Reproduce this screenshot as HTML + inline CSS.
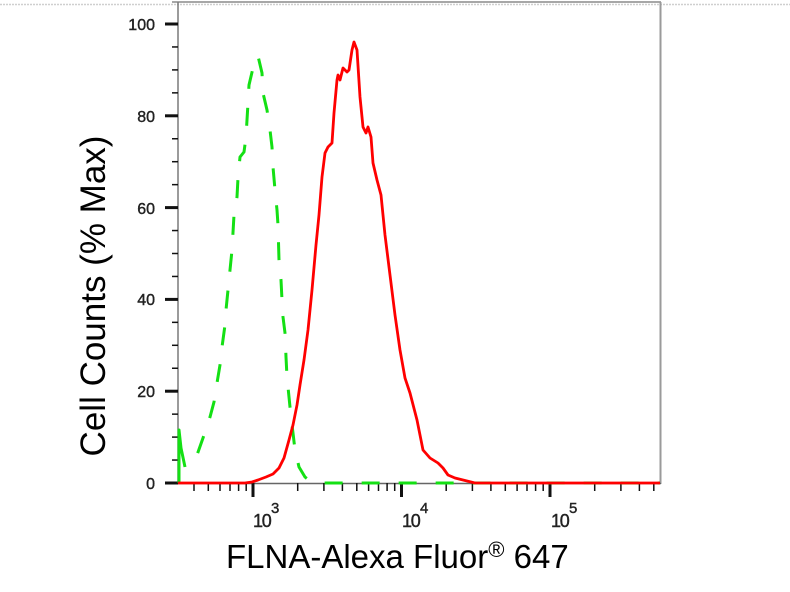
<!DOCTYPE html>
<html><head><meta charset="utf-8"><style>
html,body{margin:0;padding:0;background:#fff;}
svg{display:block;}
text{font-family:"Liberation Sans",Arial,sans-serif;}
</style></head><body>
<svg width="790" height="592" viewBox="0 0 790 592" xmlns="http://www.w3.org/2000/svg">
<rect width="790" height="592" fill="#fff"/>
<!-- top dotted line -->
<line x1="0" y1="4.5" x2="790" y2="4.5" stroke="#cfcfcf" stroke-width="1.5" stroke-dasharray="2 1"/>
<!-- frame -->
<line x1="172" y1="2" x2="661" y2="2" stroke="#8a8a8a" stroke-width="1.5"/>
<line x1="660.5" y1="2" x2="660.5" y2="484" stroke="#9a9a9a" stroke-width="2"/>
<line x1="178" y1="2" x2="178" y2="484" stroke="#7a7a7a" stroke-width="1.5"/>
<line x1="178" y1="483.5" x2="661" y2="483.5" stroke="#666" stroke-width="1.5"/>

<!-- y ticks -->
<g stroke="#111">
<line x1="165" y1="483" x2="178" y2="483" stroke-width="3"/>
<line x1="165" y1="391.2" x2="178" y2="391.2" stroke-width="3"/>
<line x1="165" y1="299.4" x2="178" y2="299.4" stroke-width="3"/>
<line x1="165" y1="207.6" x2="178" y2="207.6" stroke-width="3"/>
<line x1="165" y1="115.8" x2="178" y2="115.8" stroke-width="3"/>
<line x1="165" y1="24" x2="178" y2="24" stroke-width="3"/>
<g stroke-width="1.5">
<line x1="172" y1="460.05" x2="178" y2="460.05"/><line x1="172" y1="437.1" x2="178" y2="437.1"/><line x1="172" y1="414.15" x2="178" y2="414.15"/>
<line x1="172" y1="368.25" x2="178" y2="368.25"/><line x1="172" y1="345.3" x2="178" y2="345.3"/><line x1="172" y1="322.35" x2="178" y2="322.35"/>
<line x1="172" y1="276.45" x2="178" y2="276.45"/><line x1="172" y1="253.5" x2="178" y2="253.5"/><line x1="172" y1="230.55" x2="178" y2="230.55"/>
<line x1="172" y1="184.65" x2="178" y2="184.65"/><line x1="172" y1="161.7" x2="178" y2="161.7"/><line x1="172" y1="138.75" x2="178" y2="138.75"/>
<line x1="172" y1="92.85" x2="178" y2="92.85"/><line x1="172" y1="69.9" x2="178" y2="69.9"/><line x1="172" y1="46.95" x2="178" y2="46.95"/>
</g>
</g>
<g font-size="16" fill="#222" stroke="#222" stroke-width="0.4" text-anchor="end">
<text x="155" y="489">0</text>
<text x="155" y="397">20</text>
<text x="155" y="305">40</text>
<text x="155" y="214">60</text>
<text x="155" y="122">80</text>
<text x="155" y="30">100</text>
</g>

<!-- x ticks -->
<g stroke="#111">
<line x1="253" y1="483" x2="253" y2="497" stroke-width="3"/>
<line x1="401.5" y1="483" x2="401.5" y2="497" stroke-width="3"/>
<line x1="550" y1="483" x2="550" y2="497" stroke-width="3"/>
<g stroke-width="1.5">
<line x1="194" y1="483" x2="194" y2="491"/><line x1="208.3" y1="483" x2="208.3" y2="491"/><line x1="220" y1="483" x2="220" y2="491"/><line x1="230" y1="483" x2="230" y2="491"/><line x1="238.6" y1="483" x2="238.6" y2="491"/><line x1="246.2" y1="483" x2="246.2" y2="491"/>
<line x1="297.7" y1="483" x2="297.7" y2="491"/><line x1="323.9" y1="483" x2="323.9" y2="491"/><line x1="342.4" y1="483" x2="342.4" y2="491"/><line x1="356.8" y1="483" x2="356.8" y2="491"/><line x1="368.6" y1="483" x2="368.6" y2="491"/><line x1="378.5" y1="483" x2="378.5" y2="491"/><line x1="387.1" y1="483" x2="387.1" y2="491"/><line x1="394.7" y1="483" x2="394.7" y2="491"/>
<line x1="446.2" y1="483" x2="446.2" y2="491"/><line x1="472.4" y1="483" x2="472.4" y2="491"/><line x1="490.9" y1="483" x2="490.9" y2="491"/><line x1="505.3" y1="483" x2="505.3" y2="491"/><line x1="517.1" y1="483" x2="517.1" y2="491"/><line x1="527" y1="483" x2="527" y2="491"/><line x1="535.6" y1="483" x2="535.6" y2="491"/><line x1="543.2" y1="483" x2="543.2" y2="491"/>
<line x1="594.7" y1="483" x2="594.7" y2="491"/><line x1="620.9" y1="483" x2="620.9" y2="491"/><line x1="639.4" y1="483" x2="639.4" y2="491"/><line x1="653.8" y1="483" x2="653.8" y2="491"/>
</g>
</g>
<g fill="#222" stroke="#222" stroke-width="0.4">
<text x="253" y="527" font-size="18" letter-spacing="-1.2">10</text><text x="271" y="513" font-size="15">3</text>
<text x="402" y="527" font-size="18" letter-spacing="-1.2">10</text><text x="420" y="513" font-size="15">4</text>
<text x="551" y="527" font-size="18" letter-spacing="-1.2">10</text><text x="569" y="513" font-size="15">5</text>
</g>

<!-- green control curve -->
<g fill="none" stroke="#14e014" stroke-width="3" stroke-linejoin="round">
<polyline points="179,483 179,430 181,448 185,467"/>
<path stroke-dasharray="18 19" stroke-dashoffset="18" d="M185,467 L190,462 L197,455 L203,438 L210,417 L214,402 L217,383 L220,365 L222,347 L225,325 L226,310 L228,290 L230,270 L232,250 L234,215 L237,197 L238,178 L240,157 L244,152 L246,137 L248,103 L249,85 L253,68 L258,56 L262,73 L263,93 L267,110 L270,130 L272,147 L273,167 L275,190 L277,210 L278,225 L279,260 L281,280 L282,300 L283,317 L285,333 L286,357 L287,377 L289,397 L291,417 L293,433 L295,450 L299,467 L305,477 L310,481 L320,483 L660,483"/>
</g>

<!-- red sample curve -->
<path fill="none" stroke="#ff0000" stroke-width="2.8" stroke-linejoin="round" d="M178,483 L245,483 L252,482 L258,480 L266,477 L273,474 L279,468 L284,458 L289,440 L293,425 L297,405 L300,385 L304,360 L308,330 L312,290 L316,245 L319,215 L322,177 L325,153 L328,147 L332,143 L334,113 L337,80 L338,75 L340,80 L343,68 L347,72 L349,70 L352,50 L354,42 L357,50 L360,97 L363,127 L366,133 L368,127 L371,137 L373,163 L377,180 L381,195 L385,235 L390,275 L395,315 L400,350 L405,378 L410,393 L417,420 L423,450 L430,458 L438,463 L443,468 L448,475 L455,478 L467,481 L475,483 L660,483"/>

<!-- axis labels -->
<text x="226" y="568" font-size="33" fill="#000">FLNA-Alexa Fluor<tspan font-size="22" dy="-11">®</tspan><tspan dy="11"> 647</tspan></text>
<text transform="translate(105,296) rotate(-90)" text-anchor="middle" font-size="35" fill="#000">Cell Counts (% Max)</text>
</svg>
</body></html>
